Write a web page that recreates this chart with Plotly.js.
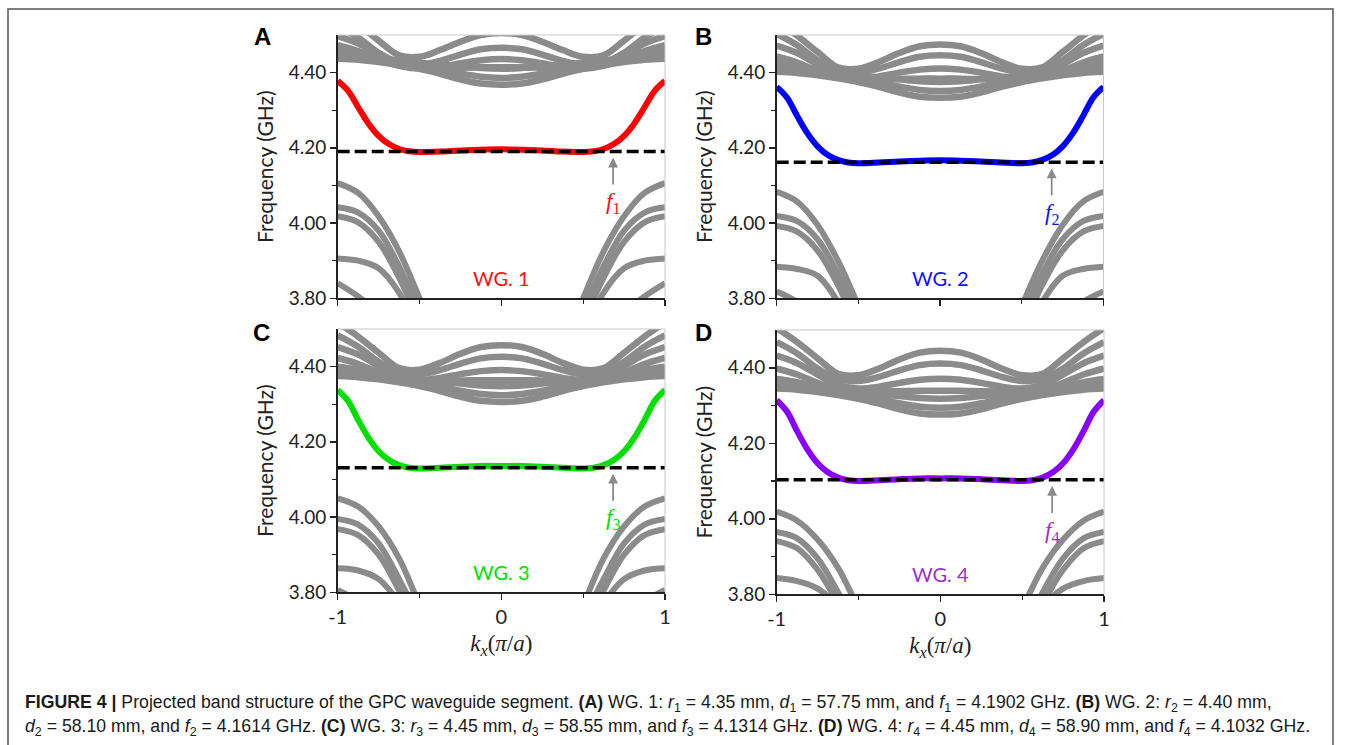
<!DOCTYPE html>
<html><head><meta charset="utf-8">
<script src="https://cdn.plot.ly/plotly-3.0.1.min.js"></script>
<style>html,body{margin:0;padding:0;background:#fff;}#chart{width:1354px;height:745px;}</style>
</head><body><div id="chart"></div>
<script>
// ---------- DATA ----------
const kxHalf = [0, 0.125, 0.25, 0.375, 0.5, 0.625, 0.75, 0.875, 1];   // k_x (pi/a), right half; bands are symmetric
const kxLowHalf = [0.4, 0.5, 0.625, 0.75, 0.875, 1];                   // k_x for lower bulk bands (edge branches)
const kxWG = [0, 0.125, 0.25, 0.375, 0.5, 0.5625, 0.625, 0.6875, 0.75, 0.8125, 0.875, 0.9375, 1]; // k_x for waveguide mode

const panelLetters = ['A', 'B', 'C', 'D'];
const wgLabels = ['WG. 1', 'WG. 2', 'WG. 3', 'WG. 4'];
const fValues = [4.1902, 4.1614, 4.1314, 4.1032];     // GHz
const rValues = ['4.35', '4.40', '4.45', '4.45'];     // mm
const dValues = ['57.75', '58.10', '58.55', '58.90']; // mm

// waveguide (edge) mode, GHz, on kxWG
const wgA = [4.196, 4.195, 4.193, 4.190, 4.189, 4.191, 4.197, 4.210, 4.232, 4.265, 4.308, 4.352, 4.378];
const wgB = [4.167, 4.166, 4.164, 4.161, 4.159, 4.161, 4.168, 4.181, 4.204, 4.239, 4.285, 4.334, 4.362];
const wgC = [4.136, 4.136, 4.134, 4.131, 4.129, 4.131, 4.138, 4.152, 4.175, 4.211, 4.258, 4.309, 4.338];
const wgD = [4.107, 4.107, 4.105, 4.102, 4.100, 4.102, 4.109, 4.123, 4.147, 4.184, 4.232, 4.284, 4.314];

// upper bulk bands, GHz, on kxHalf
const upperA = [
  [4.505, 4.500, 4.482, 4.460, 4.442, 4.446, 4.485, 4.528, 4.565],
  [4.466, 4.462, 4.448, 4.431, 4.420, 4.425, 4.453, 4.493, 4.523],
  [4.436, 4.433, 4.425, 4.415, 4.410, 4.420, 4.447, 4.477, 4.497],
  [4.414, 4.414, 4.413, 4.412, 4.412, 4.418, 4.435, 4.457, 4.473],
  [4.410, 4.412, 4.417, 4.422, 4.426, 4.432, 4.442, 4.454, 4.462],
  [4.386, 4.389, 4.398, 4.410, 4.420, 4.428, 4.436, 4.443, 4.447],
  [4.368, 4.371, 4.382, 4.397, 4.410, 4.420, 4.428, 4.434, 4.437]
];
const upperB = [
  [4.475, 4.470, 4.452, 4.428, 4.410, 4.414, 4.455, 4.498, 4.535],
  [4.446, 4.442, 4.428, 4.411, 4.400, 4.405, 4.433, 4.473, 4.503],
  [4.411, 4.408, 4.400, 4.390, 4.385, 4.395, 4.422, 4.452, 4.472],
  [4.384, 4.384, 4.383, 4.382, 4.382, 4.388, 4.405, 4.427, 4.443],
  [4.375, 4.377, 4.382, 4.387, 4.391, 4.397, 4.407, 4.419, 4.427],
  [4.351, 4.354, 4.363, 4.375, 4.385, 4.393, 4.401, 4.408, 4.412],
  [4.333, 4.336, 4.347, 4.362, 4.375, 4.385, 4.393, 4.399, 4.402]
];
const upperC = [
  [4.457, 4.452, 4.434, 4.410, 4.392, 4.396, 4.437, 4.480, 4.517],
  [4.426, 4.422, 4.408, 4.391, 4.380, 4.385, 4.413, 4.453, 4.483],
  [4.391, 4.388, 4.380, 4.370, 4.365, 4.375, 4.402, 4.432, 4.452],
  [4.364, 4.364, 4.363, 4.362, 4.362, 4.368, 4.385, 4.407, 4.423],
  [4.348, 4.350, 4.355, 4.360, 4.364, 4.370, 4.380, 4.392, 4.400],
  [4.324, 4.327, 4.336, 4.348, 4.358, 4.366, 4.374, 4.381, 4.385],
  [4.306, 4.309, 4.320, 4.335, 4.348, 4.358, 4.366, 4.372, 4.375]
];
const upperD = [
  [4.445, 4.440, 4.422, 4.398, 4.380, 4.384, 4.425, 4.468, 4.505],
  [4.411, 4.407, 4.393, 4.376, 4.365, 4.370, 4.398, 4.438, 4.468],
  [4.371, 4.368, 4.360, 4.350, 4.345, 4.355, 4.382, 4.412, 4.432],
  [4.339, 4.339, 4.338, 4.337, 4.337, 4.343, 4.360, 4.382, 4.398],
  [4.318, 4.320, 4.325, 4.330, 4.334, 4.340, 4.350, 4.362, 4.370],
  [4.294, 4.297, 4.306, 4.318, 4.328, 4.336, 4.344, 4.351, 4.355],
  [4.276, 4.279, 4.290, 4.305, 4.318, 4.328, 4.336, 4.342, 4.345]
];

// lower bulk bands, GHz, on kxLowHalf
const lowerA = [
  [3.70, 3.80, 3.925, 4.018, 4.080, 4.106],
  [3.66, 3.765, 3.885, 3.980, 4.028, 4.042],
  [3.63, 3.735, 3.855, 3.950, 4.002, 4.018],
  [3.60, 3.70, 3.815, 3.880, 3.900, 3.906],
  [3.50, 3.60, 3.700, 3.760, 3.805, 3.840]
];
const lowerB = [
  [3.68, 3.78, 3.900, 3.995, 4.057, 4.083],
  [3.64, 3.745, 3.865, 3.957, 4.005, 4.019],
  [3.61, 3.715, 3.835, 3.927, 3.977, 3.992],
  [3.58, 3.68, 3.790, 3.860, 3.878, 3.884],
  [3.48, 3.58, 3.680, 3.740, 3.790, 3.818]
];
const lowerC = [
  [3.66, 3.765, 3.890, 3.975, 4.028, 4.050],
  [3.62, 3.725, 3.835, 3.930, 3.980, 3.995],
  [3.59, 3.695, 3.805, 3.900, 3.952, 3.968],
  [3.56, 3.66, 3.770, 3.835, 3.858, 3.864],
  [3.45, 3.55, 3.650, 3.720, 3.775, 3.806]
];
const lowerD = [
  [3.70, 3.765, 3.870, 3.945, 3.995, 4.019],
  [3.60, 3.705, 3.805, 3.895, 3.948, 3.965],
  [3.57, 3.675, 3.775, 3.865, 3.922, 3.941],
  [3.55, 3.65, 3.765, 3.815, 3.835, 3.843]
];

const yTickVals = [3.80, 4.00, 4.20, 4.40];
const yTickText = ['3.80', '4.00', '4.20', '4.40'];
const xTickVals = [-1, 0, 1];
const xTickText = ['-1', '0', '1'];

// ---------- STYLE ----------
const wgColors = ['#ff0000', '#0000ff', '#00e000', '#8a00ff'];
const wgTextColors = ['#ff1010', '#1010ff', '#00e000', '#9a30d0'];
const bandColor = '#8b8b8b';
const sansFont = 'Lato, "Open Sans", sans-serif';
const serifFont = '"Liberation Serif", "DejaVu Serif", serif';

const W = 1354, H = 745;
// plot areas in pixels [left, right, top, bottom]
const boxes = [
  [337.7, 665.0, 35.0, 298.3],
  [776.7, 1103.5, 35.0, 298.3],
  [337.7, 665.0, 329.0, 592.3],
  [776.7, 1104.0, 330.0, 594.3]
];
const letterPos = [[262, 37], [703, 37], [261, 333], [703, 333]];

const wgAll = [wgA, wgB, wgC, wgD];
const upperAll = [upperA, upperB, upperC, upperD];
const lowerAll = [lowerA, lowerB, lowerC, lowerD];

function mirrorX(h) { return h.slice(1).reverse().map(v => -v).concat(h); }
function mirrorY(h) { return h.slice(1).reverse().concat(h); }

const traces = [];
const annotations = [];
const shapes = [];
const layout = {
  width: W, height: H,
  margin: {l: 0, r: 0, t: 0, b: 0},
  paper_bgcolor: '#ffffff', plot_bgcolor: '#ffffff',
  showlegend: false,
  font: {family: sansFont, color: '#222'}
};

for (let p = 0; p < 4; p++) {
  const s = p === 0 ? '' : String(p + 1);
  const xa = 'x' + s, ya = 'y' + s;
  const b = boxes[p];
  const bottomRow = p >= 2;

  const xaxis = {
    domain: [b[0] / W, b[1] / W], anchor: ya, range: [-1, 1],
    tickmode: 'array', tickvals: xTickVals, ticktext: xTickText, showticklabels: bottomRow,
    ticks: 'outside', ticklen: 6, tickwidth: 1.5, tickcolor: '#222',
    minor: {tickmode: 'array', tickvals: [-0.5, 0.5], ticks: 'outside', ticklen: 4, tickwidth: 1.2, tickcolor: '#222'},
    showline: true, linecolor: '#222', linewidth: 1.5,
    showgrid: false, zeroline: false, fixedrange: true,
    tickfont: {family: sansFont, size: 20, color: '#222'}
  };
  if (bottomRow) {
    xaxis.title = {text: '<i>k</i><sub><i>x</i></sub>(<i>π</i>/<i>a</i>)', font: {family: serifFont, size: 23, color: '#222'}, standoff: 8};
  }
  layout['xaxis' + s] = xaxis;
  layout['yaxis' + s] = {
    domain: [1 - b[3] / H, 1 - b[2] / H], anchor: xa, range: [3.8, 4.5],
    tickmode: 'array', tickvals: yTickVals, ticktext: yTickText,
    ticks: 'outside', ticklen: 6, tickwidth: 1.5, tickcolor: '#222',
    minor: {tickmode: 'array', tickvals: [3.9, 4.1, 4.3], ticks: 'outside', ticklen: 4, tickwidth: 1.2, tickcolor: '#222'},
    showline: true, linecolor: '#222', linewidth: 1.5,
    showgrid: false, zeroline: false, fixedrange: true,
    tickfont: {family: sansFont, size: 19, color: '#222'},
    title: {text: 'Frequency (GHz)', font: {family: sansFont, size: 21, color: '#222'}, standoff: 9}
  };

  // light top/right frame
  shapes.push({type: 'line', xref: xa + ' domain', yref: ya + ' domain', x0: 0, x1: 1, y0: 1, y1: 1, line: {color: '#c8c8c8', width: 1}});
  shapes.push({type: 'line', xref: xa + ' domain', yref: ya + ' domain', x0: 1, x1: 1, y0: 0, y1: 1, line: {color: '#c8c8c8', width: 1}});

  // upper bulk bands
  upperAll[p].forEach(band => {
    traces.push({type: 'scatter', mode: 'lines', x: mirrorX(kxHalf), y: mirrorY(band), xaxis: xa, yaxis: ya,
      line: {color: bandColor, width: 6.5, shape: 'spline', smoothing: 1}, hoverinfo: 'skip'});
  });
  // lower bulk bands (two edge branches)
  lowerAll[p].forEach(band => {
    const xl = kxLowHalf.slice().reverse().map(v => -v);
    const yl = band.slice().reverse();
    traces.push({type: 'scatter', mode: 'lines', x: xl.concat([null], kxLowHalf), y: yl.concat([null], band),
      xaxis: xa, yaxis: ya, connectgaps: false,
      line: {color: bandColor, width: 6, shape: 'spline', smoothing: 1}, hoverinfo: 'skip'});
  });
  // waveguide mode
  traces.push({type: 'scatter', mode: 'lines', x: mirrorX(kxWG), y: mirrorY(wgAll[p]), xaxis: xa, yaxis: ya,
    line: {color: wgColors[p], width: 6, shape: 'spline', smoothing: 1}, hoverinfo: 'skip'});
  // dashed frequency line
  traces.push({type: 'scatter', mode: 'lines', x: [-1, 1], y: [fValues[p], fValues[p]], xaxis: xa, yaxis: ya,
    line: {color: '#000000', width: 3.5, dash: '12px,5px'}, hoverinfo: 'skip'});

  // f label with arrow pointing up to the dashed line
  annotations.push({xref: xa, yref: ya, axref: xa, ayref: ya,
    x: 0.683, y: fValues[p] - 0.016, ax: 0.683, ay: fValues[p] - 0.137,
    showarrow: true, arrowhead: 2, arrowsize: 1.1, arrowwidth: 1.8, arrowcolor: '#8a8a8a',
    standoff: 0, startstandoff: 3,
    text: '<i>f</i><sub>' + (p + 1) + '</sub>', font: {family: serifFont, size: 23, color: wgTextColors[p]},
    xanchor: 'center', yanchor: 'middle'});
  // WG label
  annotations.push({xref: xa, yref: ya, x: 0, y: 3.853, showarrow: false, text: wgLabels[p],
    font: {family: sansFont, size: 20, color: wgTextColors[p]}, xanchor: 'center', yanchor: 'middle'});
  // panel letter
  annotations.push({xref: 'paper', yref: 'paper', x: letterPos[p][0] / W, y: 1 - letterPos[p][1] / H,
    showarrow: false, text: '<b>' + panelLetters[p] + '</b>',
    font: {family: '"Liberation Sans", Arial, sans-serif', size: 24, color: '#000'}, xanchor: 'center', yanchor: 'middle'});
}

// caption
const capFont = {family: '"Liberation Sans", Arial, sans-serif', size: 17.7, color: '#1a1a1a'};
function wgDesc(i) {
  const n = i + 1;
  return 'WG. ' + n + ': <i>r</i><sub>' + n + '</sub> = ' + rValues[i] + ' mm';
}
const line1 = '<b>FIGURE 4 |</b> Projected band structure of the GPC waveguide segment. <b>(A)</b> ' + wgDesc(0) +
  ', <i>d</i><sub>1</sub> = ' + dValues[0] + ' mm, and <i>f</i><sub>1</sub> = ' + fValues[0].toFixed(4) + ' GHz. <b>(B)</b> ' + wgDesc(1) + ',';
const line2 = '<i>d</i><sub>2</sub> = ' + dValues[1] + ' mm, and <i>f</i><sub>2</sub> = ' + fValues[1].toFixed(4) + ' GHz. <b>(C)</b> ' + wgDesc(2) +
  ', <i>d</i><sub>3</sub> = ' + dValues[2] + ' mm, and <i>f</i><sub>3</sub> = ' + fValues[2].toFixed(4) + ' GHz. <b>(D)</b> ' + wgDesc(3) +
  ', <i>d</i><sub>4</sub> = ' + dValues[3] + ' mm, and <i>f</i><sub>4</sub> = ' + fValues[3].toFixed(4) + ' GHz.';
annotations.push({xref: 'paper', yref: 'paper', x: 23 / W, y: 1 - 703 / H, xanchor: 'left', yanchor: 'middle',
  showarrow: false, text: line1, font: capFont, align: 'left'});
annotations.push({xref: 'paper', yref: 'paper', x: 23 / W, y: 1 - 727 / H, xanchor: 'left', yanchor: 'middle',
  showarrow: false, text: line2, font: capFont, align: 'left'});

// outer frame of figure
shapes.push({type: 'path', xref: 'paper', yref: 'paper',
  path: 'M ' + (8 / W) + ' -0.05 L ' + (8 / W) + ' ' + (1 - 9 / H) + ' L ' + (1333 / W) + ' ' + (1 - 9 / H) + ' L ' + (1333 / W) + ' -0.05',
  line: {color: '#555', width: 1.5}});

layout.annotations = annotations;
layout.shapes = shapes;

Plotly.newPlot('chart', traces, layout, {staticPlot: true, displayModeBar: false});
</script></body></html>
